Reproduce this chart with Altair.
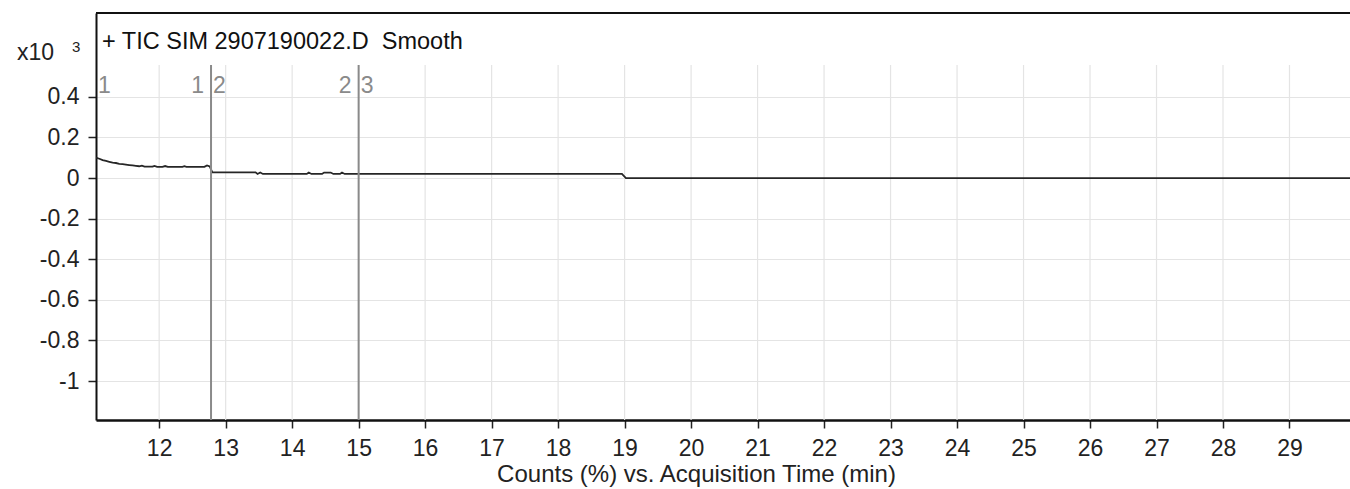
import altair as alt
import pandas as pd

# ---- data ----
times = [11.05, 11.10, 11.15, 11.20, 11.25, 11.30, 11.35, 11.40, 11.45, 11.50,
         11.55, 11.60, 11.65, 11.70, 11.74, 11.78, 11.90, 11.93, 11.97, 12.05,
         12.09, 12.13, 12.35, 12.38, 12.41, 12.68, 12.72, 12.76, 12.80, 13.45,
         13.48, 13.52, 13.56, 13.62, 14.22, 14.25, 14.29, 14.45, 14.48, 14.58,
         14.62, 14.72, 14.75, 14.79, 15.00, 18.96, 19.02, 29.95]
counts = [0.100, 0.095, 0.088, 0.084, 0.080, 0.076, 0.074, 0.070, 0.068, 0.066,
          0.064, 0.062, 0.060, 0.058, 0.061, 0.056, 0.056, 0.060, 0.055, 0.055,
          0.059, 0.055, 0.055, 0.058, 0.055, 0.055, 0.062, 0.057, 0.028, 0.028,
          0.020, 0.027, 0.020, 0.020, 0.020, 0.027, 0.020, 0.020, 0.027, 0.027,
          0.020, 0.020, 0.027, 0.020, 0.020, 0.020, 0.000, 0.000]

x_ticks = list(range(12, 30))
y_ticks = [0.4, 0.2, 0, -0.2, -0.4, -0.6, -0.8, -1]
marker_times = [12.78, 15.00]
seg_left_labels = ["1", "2", "3"]        # drawn to the right of a boundary
seg_left_pos = [11.05, 12.78, 15.00]
seg_right_labels = ["1", "2"]            # drawn to the left of a boundary
seg_right_pos = [12.78, 15.00]

title_text = "+ TIC SIM 2907190022.D \u00a0Smooth"
x_title = "Counts (%) vs. Acquisition Time (min)"

W, H = 1254, 407
FONT = "Liberation Sans"
FS = 23
xdom = [11.05, 29.91]
ydom = [-1.192, 0.813]

trace = pd.DataFrame({"t": times, "c": counts})
xs = alt.Scale(domain=xdom, nice=False, zero=False)
ys = alt.Scale(domain=ydom, nice=False, zero=False)

base_line = alt.Chart(trace).mark_line(color="#262626", strokeWidth=1.8, clip=True).encode(
    x=alt.X("t:Q", scale=xs,
            axis=alt.Axis(values=x_ticks, title=x_title, grid=False, format="d",
                          labelFontSize=FS, labelFont=FONT, labelColor="#222",
                          titleFont=FONT, titleFontSize=24, titleFontWeight="normal",
                          titleColor="#222", titleX=600, titleY=61,
                          titleAlign="center", titleBaseline="alphabetic",
                          tickSize=8, tickColor="#222", tickWidth=1.5,
                          domainColor="#111", domainWidth=2.5, labelPadding=9)),
    y=alt.Y("c:Q", scale=ys,
            axis=alt.Axis(values=y_ticks, title=None, grid=True, gridColor="#e4e4e4",
                          gridWidth=1.2, labelFontSize=FS, labelFont=FONT,
                          labelColor="#222", tickSize=8, tickColor="#222",
                          tickWidth=1.5, domainColor="#111", domainWidth=2,
                          labelPadding=9,
                          labelExpr="datum.value < 0 ? '-' + format(-datum.value, '~g') : format(datum.value, '~g')")),
)

vgrid = alt.Chart(pd.DataFrame({"g": x_ticks})).mark_rule(color="#e4e4e4", strokeWidth=1.2).encode(
    x=alt.X("g:Q", scale=xs),
    y=alt.value(52), y2=alt.value(H),
)

markers = alt.Chart(pd.DataFrame({"m": marker_times})).mark_rule(color="#8a8a8a", strokeWidth=2).encode(
    x=alt.X("m:Q", scale=xs),
    y=alt.value(52), y2=alt.value(H),
)

lab_l = alt.Chart(pd.DataFrame({"p": seg_left_pos, "s": seg_left_labels})).mark_text(
    align="left", baseline="middle", dx=2, fontSize=FS, font=FONT, color="#8a8a8a"
).encode(x=alt.X("p:Q", scale=xs), y=alt.value(73), text="s:N")

lab_r = alt.Chart(pd.DataFrame({"p": seg_right_pos, "s": seg_right_labels})).mark_text(
    align="right", baseline="middle", dx=-7, fontSize=FS, font=FONT, color="#8a8a8a"
).encode(x=alt.X("p:Q", scale=xs), y=alt.value(73), text="s:N")

top_border = alt.Chart(pd.DataFrame({"a": [0]})).mark_rule(color="#111", strokeWidth=2).encode(
    x=alt.value(0), x2=alt.value(W), y=alt.value(0)
)

title = alt.Chart(pd.DataFrame({"s": [title_text]})).mark_text(
    align="left", baseline="middle", fontSize=23.5, font=FONT, color="#111"
).encode(x=alt.value(6), y=alt.value(29), text="s:N")

x10 = alt.Chart(pd.DataFrame({"s": ["x10"]})).mark_text(
    align="left", baseline="middle", fontSize=FS, font=FONT, color="#222"
).encode(x=alt.value(-79), y=alt.value(40), text="s:N")

exp3 = alt.Chart(pd.DataFrame({"s": ["3"]})).mark_text(
    align="left", baseline="middle", fontSize=15, font=FONT, color="#222"
).encode(x=alt.value(-24), y=alt.value(34), text="s:N")

chart = alt.layer(vgrid, base_line, markers, lab_l, lab_r, top_border, title, x10, exp3).properties(
    width=W, height=H,
    autosize=alt.AutoSizeParams(type="none"),
    padding={"left": 96, "top": 13, "right": 0, "bottom": 69},
).configure_view(stroke=None).configure(background="white")

chart.save("out.html", embed_options={"renderer": "svg", "actions": False})
